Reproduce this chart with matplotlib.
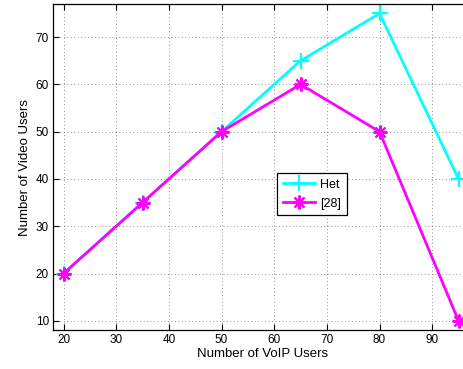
import matplotlib
matplotlib.use("Agg")
import matplotlib.pyplot as plt

plt.rcParams['font.family'] = ['Liberation Sans', 'DejaVu Sans']

voip_users = [20, 35, 50, 65, 80, 95]
het_video = [20, 35, 50, 65, 75, 40]
ref28_video = [20, 35, 50, 60, 50, 10]
xticks = [20, 30, 40, 50, 60, 70, 80, 90]
yticks = [10, 20, 30, 40, 50, 60, 70]

fig = plt.figure(figsize=(4.64, 3.69), dpi=100)
ax = fig.add_axes([0.1142, 0.1049, 0.9024, 0.8843])

ax.plot(voip_users, het_video, color='#00ffff', lw=2, marker='+', ms=11, mew=1.6, label='Het')
ax.plot(voip_users, ref28_video, color='#ff00ff', lw=2, marker=(8, 2, 0), ms=10, mew=1.5, label='[28]')

ax.set_xlim(18, 97.5)
ax.set_ylim(8, 77)
ax.set_xticks(xticks)
ax.set_yticks(yticks)
ax.tick_params(direction='in', top=True, right=True, labelsize=8.5, length=4, width=0.8, pad=3)
ax.grid(True, color='#333333', linestyle=(0, (1, 4)), linewidth=0.5)
for s in ax.spines.values():
    s.set_linewidth(0.9)

ax.set_xlabel('Number of VoIP Users', fontsize=9.5, labelpad=1)
ax.set_ylabel('Number of Video Users', fontsize=9.5, labelpad=3)

leg = ax.legend(loc='upper left', bbox_to_anchor=(0.535, 0.482), borderaxespad=0,
                fontsize=9, fancybox=False, framealpha=1, edgecolor='black',
                handlelength=2.6, borderpad=0.45, labelspacing=0.55, handletextpad=0.4)
leg.get_frame().set_linewidth(0.9)

fig.savefig('out.png', dpi=100)
